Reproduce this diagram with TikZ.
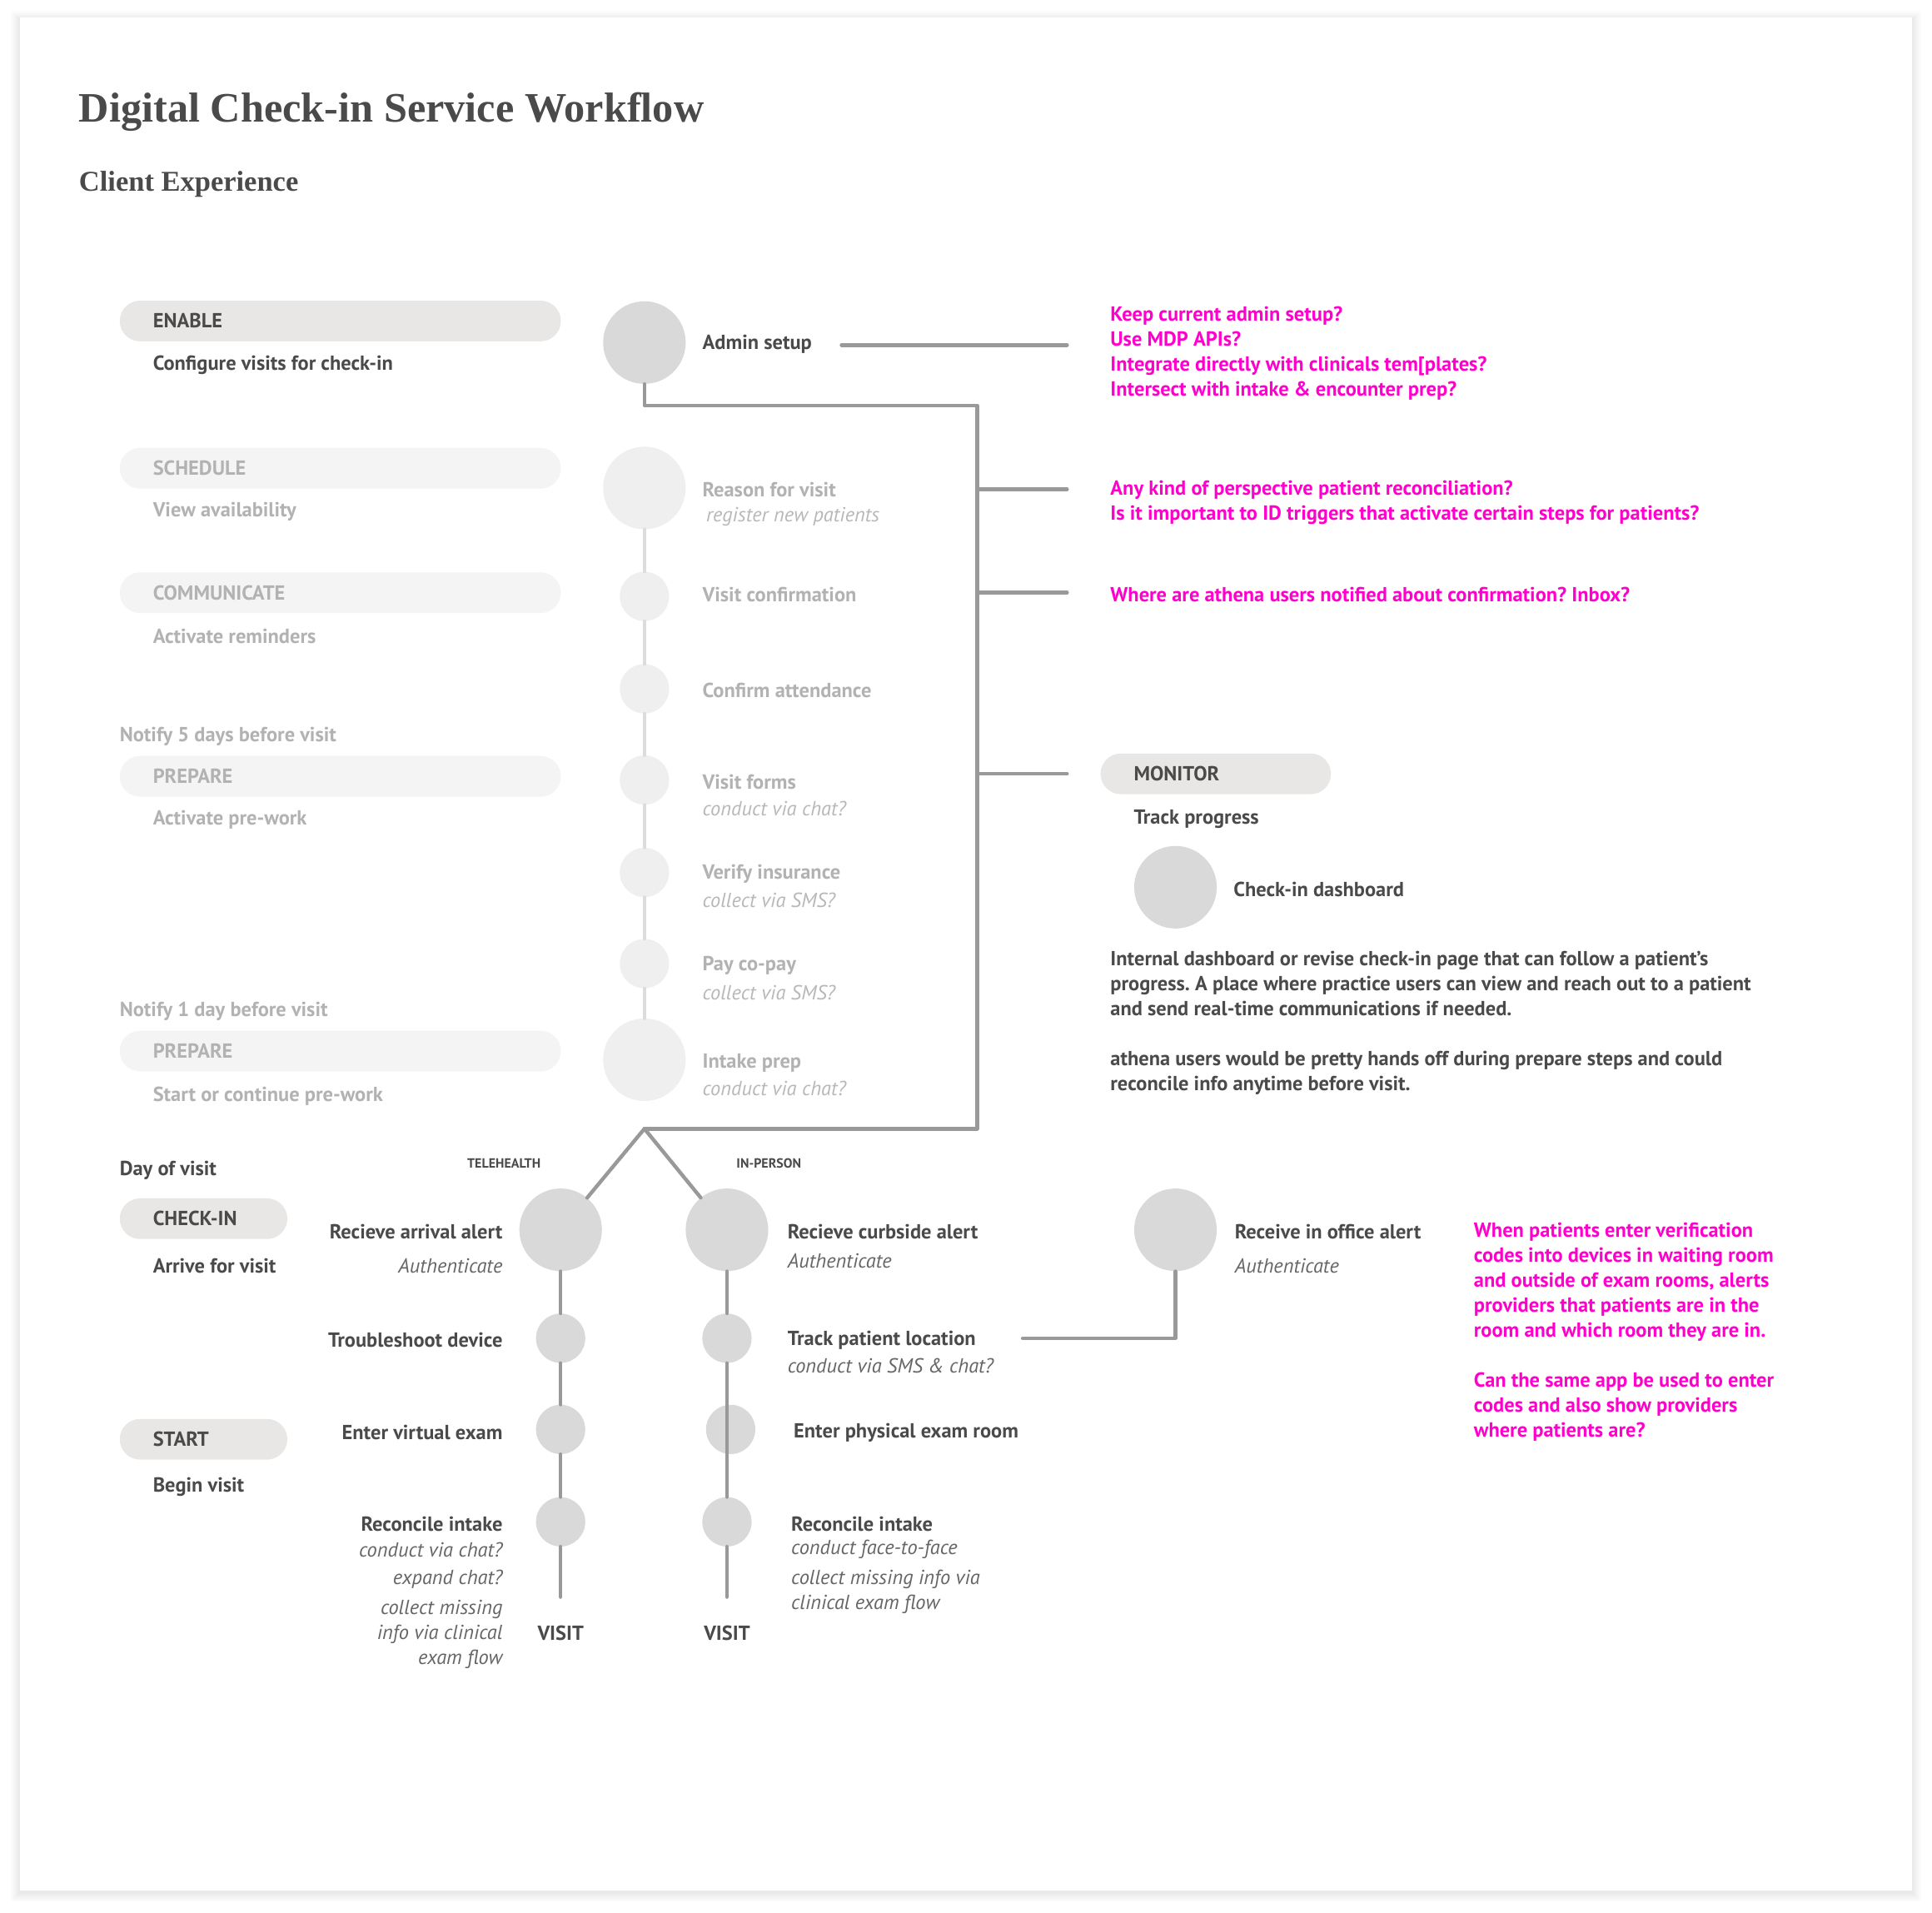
\documentclass[tikz,border=0pt]{standalone}
\usepackage{fontspec}
\setmainfont{PT Sans}
\newfontfamily\titlefont{Liberation Serif}
\usetikzlibrary{positioning}
\frenchspacing
\definecolor{ink}{HTML}{4A4A4A}
\definecolor{inkit}{HTML}{666666}
\definecolor{faded}{HTML}{B2B2B2}
\definecolor{fadedit}{HTML}{B8B8B8}
\definecolor{pill}{HTML}{E8E7E6}
\definecolor{pillfaded}{HTML}{F4F4F4}
\definecolor{dot}{HTML}{D9D9D9}
\definecolor{dotfaded}{HTML}{EFEFEF}
\definecolor{wirec}{HTML}{999999}
\definecolor{wirefaded}{HTML}{DCDCDC}
\definecolor{magentanote}{HTML}{FF00CC}

\begin{document}
\begin{tikzpicture}[x=1pt,y=-1pt,line cap=round,line join=round,
  txt/.style={inner sep=0pt,anchor=west,yshift=-1.5pt,font=\fontsize{16.5}{20.3}\selectfont\bfseries,text=ink},
  fadedtxt/.style={txt,text=faded},
  ital/.style={inner sep=0pt,anchor=west,yshift=-1.5pt,font=\fontsize{16.5}{20.3}\selectfont\itshape,text=inkit},
  fadedital/.style={ital,text=fadedit},
  notetxt/.style={txt,text=magentanote,align=left},
  pillbox/.style={fill=pill,rounded corners=16.5pt,minimum height=33pt,inner xsep=27pt,
    text width=#1,align=left,anchor=west,font=\fontsize{16.5}{20}\selectfont\bfseries,text=ink},
  fadedpill/.style={pillbox=#1,fill=pillfaded,text=faded},
  bigdot/.style={circle,fill=dot,minimum size=67pt,inner sep=0pt},
  smalldot/.style={circle,fill=dot,minimum size=40pt,inner sep=0pt},
  wire/.style={draw=wirec,line width=3pt},
  fadedwire/.style={draw=wirefaded,line width=3pt}]
  \useasboundingbox (0,0) rectangle (1568,1552);
  \fill[white] (0,0) rectangle (1568,1552);
  % card and its shadow
  \foreach \s in {1,...,7}
    \fill[black,opacity=0.012] (16-\s,14-\s+2) rectangle (1552+\s,1534+\s+2);
  \fill[white] (16,14) rectangle (1552,1534);

  % headings
  \node[inner sep=0pt,anchor=base west,font=\titlefont\fontsize{34}{40}\selectfont\bfseries,text=ink] (title) at (64,99) {Digital Check-in Service Workflow};
  \node[inner sep=0pt,anchor=base west,font=\titlefont\fontsize{23.3}{28}\selectfont\bfseries,text=ink] (subtitle) at (64,155) {Client Experience};

  % stages
  \node[pillbox=304pt] (enable) at (97,260.5) {ENABLE};
  \node[txt] (enabletxt) at (124,295) {Configure visits for check-in};
  \node[fadedpill=304pt] (schedule) at (97,380) {SCHEDULE};
  \node[fadedtxt] (scheduletxt) at (124,414) {View availability};
  \node[fadedpill=304pt] (communicate) at (97,481) {COMMUNICATE};
  \node[fadedtxt] (communicatetxt) at (124,515) {Activate reminders};
  \node[fadedtxt] (notifyfive) at (97,596) {Notify 5 days before visit};
  \node[fadedpill=304pt] (preparea) at (97,630) {PREPARE};
  \node[fadedtxt] (prepareatxt) at (124,664) {Activate pre-work};
  \node[fadedtxt] (notifyone) at (97,819) {Notify 1 day before visit};
  \node[fadedpill=304pt] (prepareb) at (97,853) {PREPARE};
  \node[fadedtxt] (preparebtxt) at (124,888) {Start or continue pre-work};

  % setup and pre-visit steps
  \node[bigdot] (admin) at (523,278) {};
  \node[txt] (adminlbl) at (570,278) {Admin setup};
  \node[bigdot,fill=dotfaded] (reason) at (523,396) {};
  \node[fadedtxt] (reasonlbl) at (570,396) {Reason for visit};
  \node[fadedital] (reasonsub) at (573,418) {register new patients};
  \node[smalldot,fill=dotfaded] (vconfirm) at (523,484) {};
  \node[fadedtxt] (vconfirmlbl) at (570,481) {Visit confirmation};
  \node[smalldot,fill=dotfaded] (attend) at (523,559) {};
  \node[fadedtxt] (attendlbl) at (570,559) {Confirm attendance};
  \node[smalldot,fill=dotfaded] (vforms) at (523,633) {};
  \node[fadedtxt] (vformslbl) at (570,633) {Visit forms};
  \node[fadedital] (vformssub) at (570,655) {conduct via chat?};
  \node[smalldot,fill=dotfaded] (insurance) at (523,708) {};
  \node[fadedtxt] (insurancelbl) at (570,708) {Verify insurance};
  \node[fadedital] (insurancesub) at (570,729) {collect via SMS?};
  \node[smalldot,fill=dotfaded] (copay) at (523,782) {};
  \node[fadedtxt] (copaylbl) at (570,782) {Pay co-pay};
  \node[fadedital] (copaysub) at (570,804) {collect via SMS?};
  \node[bigdot,fill=dotfaded] (intake) at (523,860) {};
  \node[fadedtxt] (intakelbl) at (570,861) {Intake prep};
  \node[fadedital] (intakesub) at (570,882) {conduct via chat?};
  \draw[fadedwire] (reason) -- (vconfirm);
  \draw[fadedwire] (vconfirm) -- (attend);
  \draw[fadedwire] (attend) -- (vforms);
  \draw[fadedwire] (vforms) -- (insurance);
  \draw[fadedwire] (insurance) -- (copay);
  \draw[fadedwire] (copay) -- (intake);

  % rail
  \coordinate (railtop) at (793,329);
  \coordinate (railbot) at (793,916);
  \coordinate (fork) at (523,916);
  \coordinate (adminend) at (683,280);
  \coordinate (qadmin) at (866,280);
  \coordinate (qreason) at (866,397);
  \coordinate (qconfirm) at (866,481);
  \coordinate (qmonitor) at (866,628);
  \draw[wire] (admin.south) |- (railtop) -- (railbot) -- (fork);
  \draw[wire] (adminend) -- (qadmin);
  \draw[wire] (railtop |- qreason) -- (qreason);
  \draw[wire] (railtop |- qconfirm) -- (qconfirm);
  \draw[wire] (railtop |- qmonitor) -- (qmonitor);

  % questions
  \node[notetxt] (noteadmin) at (901,285) {Keep current admin setup?\\Use MDP APIs?\\Integrate directly with clinicals tem[plates?\\Intersect with intake \& encounter prep?};
  \node[notetxt] (notereason) at (901,406.5) {Any kind of perspective patient reconciliation?\\Is it important to ID triggers that activate certain steps for patients?};
  \node[notetxt] (noteconfirm) at (901,481) {Where are athena users notified about confirmation? Inbox?};

  % monitor
  \node[pillbox=133pt] (monitor) at (893,628) {MONITOR};
  \node[txt] (monitortxt) at (920,663) {Track progress};
  \node[bigdot] (dashboard) at (954,720) {};
  \node[txt] (dashboardlbl) at (1001,720) {Check-in dashboard};
  \node[txt,align=left] (dashnote) at (901,828.5) {Internal dashboard or revise check-in page that can follow a patient’s\\progress. A place where practice users can view and reach out to a patient\\and send real-time communications if needed.\\[20.5pt]athena users would be pretty hands off during prepare steps and could\\reconcile info anytime before visit.};

  % day of visit
  \node[txt] (dayof) at (97,948) {Day of visit};
  \node[pillbox=82pt] (checkin) at (97,989) {CHECK-IN};
  \node[txt] (checkintxt) at (124,1026) {Arrive for visit};
  \node[pillbox=82pt] (start) at (97,1168) {START};
  \node[txt] (starttxt) at (124,1205) {Begin visit};
  \node[inner sep=0pt,font=\fontsize{10.8}{12}\selectfont\bfseries,text=ink] (telehealth) at (409,944) {TELEHEALTH};
  \node[inner sep=0pt,font=\fontsize{10.8}{12}\selectfont\bfseries,text=ink] (inperson) at (624,944) {IN-PERSON};

  % telehealth
  \node[bigdot] (arrival) at (455,998) {};
  \node[txt,anchor=east] (arrivallbl) at (408,998) {Recieve arrival alert};
  \node[ital,anchor=east] (arrivalsub) at (408,1026) {Authenticate};
  \node[smalldot] (device) at (455,1086) {};
  \node[txt,anchor=east] (devicelbl) at (408,1086) {Troubleshoot device};
  \node[smalldot] (virtual) at (455,1160) {};
  \node[txt,anchor=east] (virtuallbl) at (408,1161) {Enter virtual exam};
  \node[smalldot] (tintake) at (455,1235) {};
  \node[txt,anchor=east] (tintakelbl) at (408,1235) {Reconcile intake};
  \node[ital,anchor=east] (tintakesuba) at (408,1256) {conduct via chat?};
  \node[ital,anchor=east] (tintakesubb) at (408,1280) {expand chat?};
  \node[ital,anchor=east,align=right] (tintakesubc) at (408,1325) {collect missing\\info via clinical\\exam flow};
  \coordinate (tend) at (455,1296);
  \node[txt,anchor=center] (tvisit) at (455,1324) {VISIT};
  \draw[wire] (fork) -- (arrival);
  \draw[wire] (arrival) -- (device);
  \draw[wire] (device) -- (virtual);
  \draw[wire] (virtual) -- (tintake);
  \draw[wire] (tintake) -- (tend);

  % in-person
  \node[bigdot] (curbside) at (590,998) {};
  \node[txt] (curbsidelbl) at (639,998) {Recieve curbside alert};
  \node[ital] (curbsidesub) at (639,1022) {Authenticate};
  \node[smalldot] (location) at (590,1086) {};
  \node[txt] (locationlbl) at (639,1086) {Track patient location};
  \node[ital] (locationsub) at (639,1107) {conduct via SMS \& chat?};
  \node[smalldot] (physical) at (593,1160) {};
  \node[txt] (physicallbl) at (644,1161) {Enter physical exam room};
  \node[smalldot] (pintake) at (590,1235) {};
  \node[txt] (pintakelbl) at (642,1235) {Reconcile intake};
  \node[ital] (pintakesuba) at (642,1256) {conduct face-to-face};
  \node[ital,align=left] (pintakesubb) at (642,1290) {collect missing info via\\clinical exam flow};
  \coordinate (pend) at (590,1296);
  \node[txt,anchor=center] (pvisit) at (590,1324) {VISIT};
  \draw[wire] (fork) -- (curbside);
  \draw[wire] (curbside) -- (location);
  \draw[wire] (location) -- (pintake);
  \draw[wire] (pintake) -- (pend);

  % in office
  \node[bigdot] (office) at (954,998) {};
  \node[txt] (officelbl) at (1002,998) {Receive in office alert};
  \node[ital] (officesub) at (1002,1026) {Authenticate};
  \coordinate (officeend) at (830,1086);
  \draw[wire] (office.south) |- (officeend);
  \node[notetxt] (noteoffice) at (1196,1079.5) {When patients enter verification\\codes into devices in waiting room\\and outside of exam rooms, alerts\\providers that patients are in the\\room and which room they are in.\\[20.3pt]Can the same app be used to enter\\codes and also show providers\\where patients are?};
\end{tikzpicture}
\end{document}
